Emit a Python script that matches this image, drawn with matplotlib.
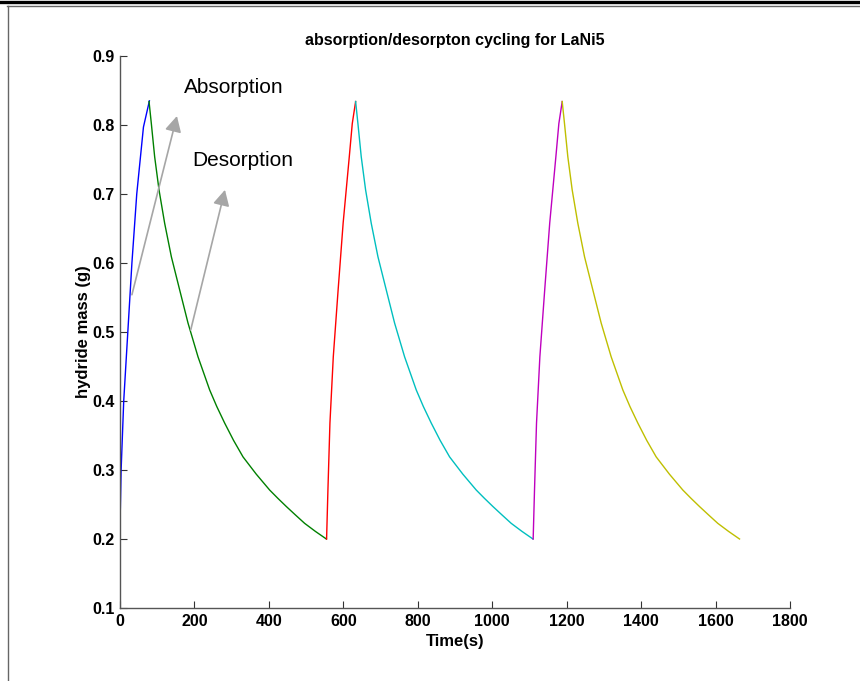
import matplotlib
matplotlib.use("Agg")
import matplotlib.pyplot as plt
from matplotlib.lines import Line2D

plt.rcParams['font.family'] = ['Liberation Sans', 'DejaVu Sans']

# ---- data ----
# first absorption (starts from partially loaded state)
abs1_time = [0, 1, 3, 10, 21, 32, 45, 63, 79]
abs1_mass = [0.225, 0.245, 0.30, 0.40, 0.50, 0.60, 0.70, 0.797, 0.835]

# absorption profile (time offset, mass) for later cycles
abs_dt = [0, 3.6, 9, 18, 31, 44.5, 61, 69, 78]
abs_mass = [0.2, 0.271, 0.368, 0.464, 0.561, 0.658, 0.754, 0.802, 0.834]

# desorption profile (time offset from peak, mass)
des_dt = [0, 6.2, 15.1, 26.8, 42, 60, 82.3, 104.7, 131.6, 162.9, 182, 203.2,
          227, 252.5, 288, 324, 346, 369, 393, 418, 447, 476.4]
des_mass = [0.834, 0.802, 0.754, 0.706, 0.6575, 0.609, 0.561, 0.513, 0.464, 0.416,
            0.392, 0.368, 0.343, 0.319, 0.294, 0.271, 0.259, 0.247, 0.235, 0.2227,
            0.211, 0.2]

cycle_starts = [0, 555, 1110]
abs_duration = 78

abs_colors = [(0, 0, 1), (1, 0, 0), (0.75, 0, 0.75)]
des_colors = [(0, 0.5, 0), (0, 0.75, 0.75), (0.75, 0.75, 0)]

x_ticks = [0, 200, 400, 600, 800, 1000, 1200, 1400, 1600, 1800]
y_ticks = [0.1, 0.2, 0.3, 0.4, 0.5, 0.6, 0.7, 0.8, 0.9]

title = "absorption/desorpton cycling for LaNi5"
xlabel = "Time(s)"
ylabel = "hydride mass (g)"

# ---- figure ----
fig = plt.figure(figsize=(8.6, 6.81), dpi=100)
ax = fig.add_axes([120 / 860, 1 - 608 / 681, 670 / 860, 552 / 681])

for i, start in enumerate(cycle_starts):
    if i == 0:
        ta = abs1_time
        ma = abs1_mass
    else:
        ta = [start + d for d in abs_dt]
        ma = abs_mass
    ax.plot(ta, ma, color=abs_colors[i], lw=1.0)
    peak_t = start + abs_duration
    td = [peak_t + d for d in des_dt]
    ax.plot(td, des_mass, color=des_colors[i], lw=1.0)

ax.set_xlim(0, 1800)
ax.set_ylim(0.1, 0.9)
ax.set_xticks(x_ticks)
ax.set_yticks(y_ticks)
ax.set_xticklabels([str(v) for v in x_ticks])
ax.set_yticklabels([f"{v:.1f}" for v in y_ticks])

for s in ['top', 'right']:
    ax.spines[s].set_visible(False)
for s in ['left', 'bottom']:
    ax.spines[s].set_color('#555555')
    ax.spines[s].set_linewidth(1.0)

ax.tick_params(direction='in', length=5, width=0.8, color='#333333',
               labelsize=11.5, pad=4)
for lab in ax.get_xticklabels() + ax.get_yticklabels():
    lab.set_fontweight('bold')

ax.set_title(title, fontsize=11.5, fontweight='bold', pad=8)
ax.set_xlabel(xlabel, fontsize=12, fontweight='bold', labelpad=4)
ax.set_ylabel(ylabel, fontsize=12, fontweight='bold', labelpad=1)

arrow_kw = dict(arrowstyle='-|>,head_length=0.95,head_width=0.5',
                color='#a6a6a6', lw=1.2, shrinkA=0, shrinkB=0)
ax.annotate("", xy=(153, 0.813), xytext=(32, 0.554), arrowprops=arrow_kw)
ax.annotate("", xy=(282, 0.706), xytext=(190, 0.503), arrowprops=arrow_kw)
ax.text(172, 0.854, "Absorption", fontsize=15, va='center', ha='left')
ax.text(193, 0.749, "Desorption", fontsize=15, va='center', ha='left')

# window frame decorations
fig.add_artist(Line2D([0, 1], [1 - 1.5 / 681, 1 - 1.5 / 681], transform=fig.transFigure,
                      color='black', lw=2.4))
fig.add_artist(Line2D([7 / 860, 1], [1 - 5.5 / 681, 1 - 5.5 / 681], transform=fig.transFigure,
                      color='#666666', lw=1.0))
fig.add_artist(Line2D([7.5 / 860, 7.5 / 860], [0, 1 - 5.5 / 681], transform=fig.transFigure,
                      color='#666666', lw=1.0))

fig.savefig("out.png", dpi=100)
